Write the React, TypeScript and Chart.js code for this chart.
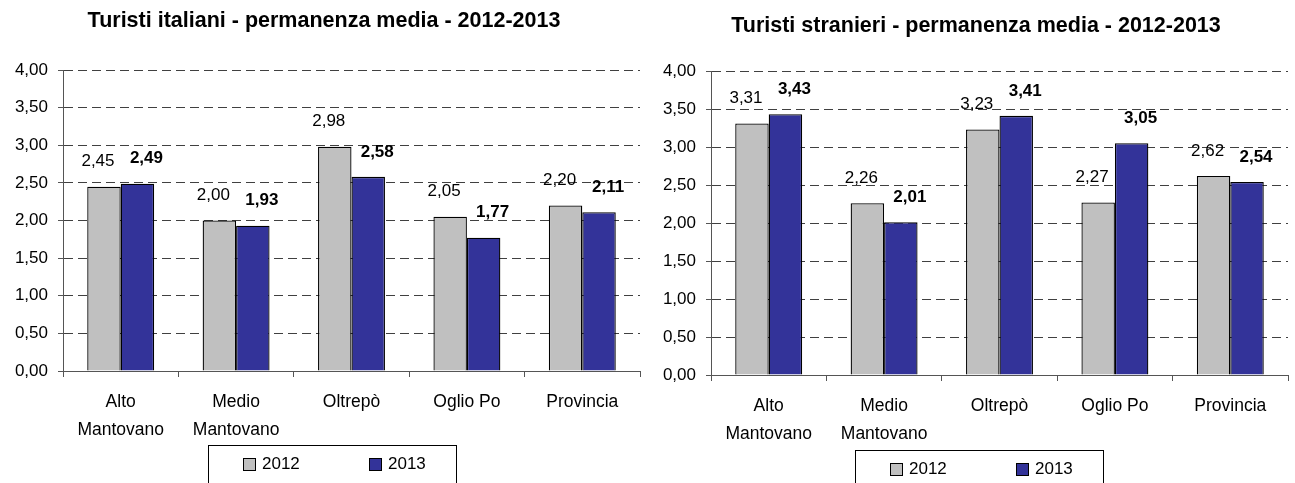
import React, { useEffect, useRef } from "react";
import { Chart, registerables } from "chart.js";

Chart.register(...registerables);

const FONT = "'Liberation Sans', Arial, sans-serif";

const categories: (string | string[])[] = [
  ["Alto", "Mantovano"],
  ["Medio", "Mantovano"],
  "Oltrepò",
  "Oglio Po",
  "Provincia",
];
const seriesNames = ["2012", "2013"];
const seriesColors = ["#C0C0C0", "#333399"];

const italiani2012 = [2.45, 2.0, 2.98, 2.05, 2.2];
const italiani2013 = [2.49, 1.93, 2.58, 1.77, 2.11];
const stranieri2012 = [3.31, 2.26, 3.23, 2.27, 2.62];
const stranieri2013 = [3.43, 2.01, 3.41, 3.05, 2.54];

const titleItaliani = "Turisti italiani - permanenza media - 2012-2013";
const titleStranieri = "Turisti stranieri - permanenza media - 2012-2013";

const yMin = 0;
const yMax = 4;
const yStep = 0.5;

const fmt = (v: number) => v.toFixed(2).replace(".", ",");

const valueLabels = {
  id: "valueLabels",
  afterDatasetsDraw(chart: any) {
    const ctx = chart.ctx;
    chart.data.datasets.forEach((ds: any, di: number) => {
      const meta = chart.getDatasetMeta(di);
      ctx.save();
      ctx.font = `${di === 1 ? "bold " : ""}17px ${FONT}`;
      ctx.fillStyle = "#000";
      ctx.textAlign = "center";
      ctx.textBaseline = "middle";
      meta.data.forEach((bar: any, i: number) => {
        ctx.fillText(fmt(ds.data[i]), bar.x + (di === 0 ? -6 : 9), bar.y - 25);
      });
      ctx.restore();
    });
  },
};

const decor = {
  id: "decor",
  afterDraw(chart: any, _args: any, opts: any) {
    const ctx = chart.ctx;
    ctx.save();
    ctx.font = `bold 21.5px ${FONT}`;
    ctx.fillStyle = "#000";
    ctx.textAlign = "center";
    ctx.textBaseline = "middle";
    ctx.fillText(opts.title, opts.titleX, opts.titleY);
    const lx = opts.legendX;
    const ly = opts.legendY;
    ctx.strokeStyle = "#000";
    ctx.lineWidth = 1;
    ctx.strokeRect(lx + 0.5, ly + 0.5, 248, 80);
    ctx.font = `17px ${FONT}`;
    ctx.textAlign = "left";
    chart.data.datasets.forEach((ds: any, i: number) => {
      const sx = lx + 35 + i * 126;
      const sy = ly + 13;
      ctx.fillStyle = ds.backgroundColor;
      ctx.fillRect(sx, sy, 12, 12);
      ctx.strokeRect(sx + 0.5, sy + 0.5, 12, 12);
      ctx.fillStyle = "#000";
      ctx.fillText(ds.label, sx + 19, sy + 6.5);
    });
    ctx.restore();
  },
};

type Cfg = {
  data2012: number[];
  data2013: number[];
  title: string;
  width: number;
  height: number;
  areaLeft: number;
  areaRight: number;
  areaTop: number;
  areaBottom: number;
  titleX: number;
  titleY: number;
  legendX: number;
  legendY: number;
};

function BarPanel(props: Cfg) {
  const ref = useRef<HTMLCanvasElement | null>(null);
  useEffect(() => {
    if (!ref.current) return;
    const c = props;
    const chart = new Chart(ref.current, {
      type: "bar",
      data: {
        labels: categories as any,
        datasets: [
          {
            label: seriesNames[0],
            data: c.data2012,
            backgroundColor: seriesColors[0],
            borderColor: "#000",
            borderWidth: 1.3,
            categoryPercentage: 0.58,
            barPercentage: 1,
          },
          {
            label: seriesNames[1],
            data: c.data2013,
            backgroundColor: seriesColors[1],
            borderColor: "#000",
            borderWidth: 1.3,
            categoryPercentage: 0.58,
            barPercentage: 1,
          },
        ],
      },
      options: {
        responsive: false,
        animation: false,
        layout: {
          padding: { left: 0, right: c.width - c.areaRight, top: c.areaTop, bottom: 0 },
        },
        plugins: {
          legend: { display: false },
          title: { display: false },
          tooltip: { enabled: false },
          decor: {
            title: c.title,
            titleX: c.titleX,
            titleY: c.titleY,
            legendX: c.legendX,
            legendY: c.legendY,
          },
        } as any,
        scales: {
          x: {
            grid: {
              display: true,
              drawOnChartArea: false,
              drawTicks: true,
              tickLength: 6,
              offset: true,
              color: "#555",
            },
            border: { display: true, color: "#555", width: 1 },
            ticks: {
              color: "#000",
              font: { family: FONT, size: 17.5, lineHeight: 1.55 },
              padding: 12,
              maxRotation: 0,
              autoSkip: false,
            },
            afterFit: (s: any) => {
              s.height = c.height - c.areaBottom;
            },
          },
          y: {
            min: yMin,
            max: yMax,
            ticks: {
              stepSize: yStep,
              color: "#000",
              font: { family: FONT, size: 17 },
              padding: 10,
              callback: (v: any) => fmt(Number(v)),
            },
            grid: {
              color: "#404040",
              lineWidth: 1,
              tickLength: 5,
              tickColor: "#555",
              tickBorderDash: [],
            },
            border: { display: true, dash: [9, 5], color: "#555", width: 1 },
            afterFit: (s: any) => {
              s.width = c.areaLeft;
            },
          },
        },
      },
      plugins: [valueLabels, decor],
    });
    return () => chart.destroy();
  }, []);
  return (
    <canvas
      ref={ref}
      width={props.width}
      height={props.height}
      style={{ width: props.width, height: props.height, display: "block" }}
    />
  );
}

export default function App() {
  useEffect(() => {
    document.body.style.margin = "0";
  }, []);
  return (
    <div style={{ position: "relative", width: 1295, height: 483, background: "#fff", overflow: "hidden" }}>
      <div style={{ position: "absolute", left: 0, top: 0 }}>
        <BarPanel
          data2012={italiani2012}
          data2013={italiani2013}
          title={titleItaliani}
          width={648}
          height={483}
          areaLeft={63}
          areaRight={640}
          areaTop={70}
          areaBottom={371}
          titleX={324}
          titleY={21}
          legendX={208}
          legendY={445}
        />
      </div>
      <div style={{ position: "absolute", left: 650, top: 0 }}>
        <BarPanel
          data2012={stranieri2012}
          data2013={stranieri2013}
          title={titleStranieri}
          width={645}
          height={483}
          areaLeft={61}
          areaRight={638}
          areaTop={71}
          areaBottom={375}
          titleX={326}
          titleY={26}
          legendX={205}
          legendY={450}
        />
      </div>
    </div>
  );
}
